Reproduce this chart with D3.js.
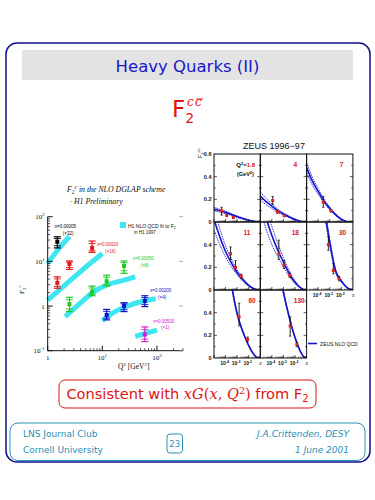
<!DOCTYPE html>
<html><head><meta charset="utf-8">
<script src="https://cdn.jsdelivr.net/npm/d3@7"></script>
<style>body{margin:0;background:#fff}svg{display:block}</style>
</head><body><svg id="c" width="375" height="500"></svg>
<script>
// ---------- DATA ----------
const slideTitle = "Heavy Quarks (II)";
const footerLeft = ["LNS Journal Club", "Cornell University"];
const footerRight = ["J.A.Crittenden, DESY", "1 June 2001"];
const pageNumber = "23";

// H1 (left plot)
const h1Title = ["in the NLO DGLAP scheme", "H1 Preliminary"];
const h1BinLabels = ["x=0.00005", "x=0.00020", "x=0.00050", "x=0.00200", "x=0.00500"];
const h1ScaleLabels = ["(×32)", "(×16)", "(×8)", "(×4)", "(×1)"];
const h1Q2 = [[1.5], [1.5, 2.5, 6.5], [2.5, 6.5, 12, 25], [12, 25, 60], [60]];
const h1F2 = [[27.5], [3.3, 8.7, 20], [1.1, 2.1, 3.6, 7.9], [0.63, 1.0, 1.3], [0.23]];
const h1Hi = [[35.5], [4.5, 10.2, 28.5], [1.57, 2.8, 4.9, 10.2], [0.84, 1.19, 1.7], [0.34]];
const h1Lo = [[20], [2.5, 6.6, 15.9], [0.75, 1.7, 2.8, 5.4], [0.49, 0.75, 0.97], [0.16]];
const fitQ2 = [[1, 1.5, 2.5], [1, 2.5, 6.5, 10], [2.1, 4, 7, 12.4, 25, 40], [10, 15, 26, 45, 95], [40, 100]];
const fitF2 = [[9, 17.5, 36], [1.35, 3.6, 9.8, 15], [0.58, 1.17, 2.1, 3.0, 3.8, 4.5], [0.47, 0.68, 0.95, 1.2, 1.45], [0.21, 0.29]];
const xTicksL = [1, 10, 100];
const yTicksL = [0.1, 1, 10, 100];

// ZEUS (right plot)
const zeusTitle = "ZEUS 1996\u221297";
const zeusQ2 = ["1.8", "4", "7", "11", "18", "30", "60", "130"];
const curveLogX = [-5, -4.5, -4, -3.5, -3, -2.5, -2, -1.75, -1.5, -1.25, -1];
const curveMid = [
  [0.115, 0.10, 0.085, 0.066, 0.047, 0.03, 0.016, 0.01, 0.005, 0.001, 0],
  [0.23, 0.18, 0.14, 0.10, 0.07, 0.045, 0.022, 0.013, 0.006, 0.001, 0],
  [0.48, 0.36, 0.27, 0.185, 0.12, 0.065, 0.025, 0.012, 0.003, 0, 0],
  [0.62, 0.47, 0.34, 0.24, 0.155, 0.09, 0.04, 0.022, 0.01, 0.002, 0],
  [0.85, 0.64, 0.48, 0.355, 0.245, 0.145, 0.068, 0.04, 0.018, 0.002, 0],
  [1.6, 1.2, 0.9, 0.72, 0.42, 0.17, 0.08, 0.047, 0.022, 0.006, 0],
  [2.5, 1.8, 1.1, 0.66, 0.39, 0.23, 0.11, 0.06, 0.025, 0.002, 0],
  [3.0, 2.2, 1.4, 0.85, 0.58, 0.36, 0.18, 0.11, 0.05, 0.012, 0]
];
const curveBand = [
  [0.015, 0.013, 0.011, 0.009, 0.007, 0.005, 0.003, 0.002, 0.001, 0, 0],
  [0.035, 0.028, 0.02, 0.015, 0.01, 0.007, 0.004, 0.003, 0.002, 0, 0],
  [0.045, 0.035, 0.025, 0.018, 0.012, 0.008, 0.004, 0.002, 0.001, 0, 0],
  [0.09, 0.07, 0.05, 0.035, 0.022, 0.014, 0.007, 0.004, 0.002, 0, 0],
  [0.12, 0.10, 0.08, 0.06, 0.04, 0.025, 0.012, 0.007, 0.003, 0, 0],
  [0.1, 0.08, 0.06, 0.05, 0.03, 0.015, 0.008, 0.005, 0.002, 0, 0],
  [0.04, 0.03, 0.02, 0.015, 0.01, 0.006, 0.003, 0.002, 0.001, 0, 0],
  [0.04, 0.03, 0.02, 0.015, 0.01, 0.006, 0.003, 0.002, 0.001, 0, 0]
];
const zeusLogX = [[-4.34, -3.9, -3.33], [-3.93, -3.53, -2.93], [-3.56, -2.9], [-3.57, -3.14, -2.65],
                  [-3.4, -2.95, -2.45], [-3.12, -2.69, -2.2], [-2.83, -2.1], [-2.42, -1.84]];
const zeusF2 = [[0.10, 0.06, 0.04], [0.19, 0.09, 0.055], [0.175, 0.10], [0.32, 0.20, 0.12],
                [0.32, 0.22, 0.13], [0.40, 0.173, 0.10], [0.364, 0.165], [0.283, 0.12]];
const zeusErrUp = [[0.03, 0.01, 0.005], [0.035, 0.012, 0.006], [0.05, 0.012], [0.06, 0.06, 0.02],
                   [0.12, 0.04, 0.02], [0.07, 0.06, 0.02], [0.12, 0.02], [0.08, 0.02]];
const zeusErrDn = [[0.04, 0.01, 0.005], [0.035, 0.012, 0.006], [0.045, 0.012], [0.05, 0.03, 0.02],
                   [0.05, 0.03, 0.02], [0.05, 0.03, 0.02], [0.08, 0.02], [0.09, 0.02]];
const yTicksR = [0, 0.2, 0.4, 0.6];
const xTicksR = [1e-4, 1e-3, 1e-2];
const xTickLabelsR = ["-4", "-3", "-2"];

// ---------- DRAW ----------
const svg = d3.select("#c");
const defs = svg.append("defs");
const NAVY = "#10108a", BLUE = "#1818c8", RED = "#dd1414", TEAL = "#2a8fb5";

svg.append("rect").attr("x", 6).attr("y", 43).attr("width", 364).attr("height", 419).attr("rx", 11)
  .attr("fill", "none").attr("stroke", NAVY).attr("stroke-width", 1.5);
svg.append("rect").attr("x", 22).attr("y", 50).attr("width", 331).attr("height", 30).attr("fill", "#e3e3e3");
svg.append("text").attr("x", 187.5).attr("y", 71.5).attr("text-anchor", "middle")
  .attr("font-family", "DejaVu Sans").attr("font-size", 16.5).attr("fill", BLUE).text(slideTitle);

// F2^{c cbar} as one text element
{
  const t = svg.append("text").attr("x", 172).attr("y", 117).attr("fill", RED).attr("font-family", "DejaVu Sans").attr("font-size", 23);
  t.append("tspan").text("F");
  t.append("tspan").attr("font-size", 14).attr("dy", 6).text("2");
  t.append("tspan").attr("font-family", "DejaVu Serif").attr("font-style", "italic").attr("font-size", 12)
    .attr("x", 187).attr("dy", -17).text("c");
  t.append("tspan").attr("font-family", "DejaVu Serif").attr("font-style", "italic").attr("font-size", 12)
    .attr("x", 195).text("c");
  svg.append("line").attr("x1", 196.3).attr("x2", 203).attr("y1", 99).attr("y2", 99).attr("stroke", RED).attr("stroke-width", 1);
}

// ---------- Left plot (H1) ----------
const xL = d3.scaleLog().domain([1, 300]).range([47.7, 183]);
const yL = d3.scaleLog().domain([0.1, 100]).range([350.7, 216.7]);
const gL = svg.append("g");
const h1Colors = ["#000000", "#e01818", "#20c820", "#1010c8", "#d020d0"];

const lineL = d3.line().x(d => xL(d[0])).y(d => yL(d[1])).curve(d3.curveMonotoneX);
fitQ2.forEach((qs, i) => {
  gL.append("path").attr("d", lineL(qs.map((q, k) => [q, fitF2[i][k]])))
    .attr("fill", "none").attr("stroke", "#3ee6f2").attr("stroke-width", 5);
});

gL.append("line").attr("x1", xL(1)).attr("x2", xL(1)).attr("y1", yL(100)).attr("y2", yL(0.1)).attr("stroke", "#111").attr("stroke-width", 1);
gL.append("line").attr("x1", xL(1)).attr("x2", xL(300)).attr("y1", yL(0.1)).attr("y2", yL(0.1)).attr("stroke", "#111").attr("stroke-width", 1);
const minorY = [], minorX = [];
[0.1, 1, 10].forEach(d => { for (let m = 2; m < 10; m++) minorY.push(d * m); });
[1, 10, 100].forEach(d => { for (let m = 2; m < 10; m++) if (d * m <= 300) minorX.push(d * m); });
yTicksL.forEach(v => {
  gL.append("line").attr("x1", xL(1)).attr("x2", xL(1) + 5).attr("y1", yL(v)).attr("y2", yL(v)).attr("stroke", "#111");
  gL.append("line").attr("x1", xL(300)).attr("x2", xL(300) - 4).attr("y1", yL(v)).attr("y2", yL(v)).attr("stroke", "#888").attr("stroke-width", 0.7);
});
minorY.forEach(v => gL.append("line").attr("x1", xL(1)).attr("x2", xL(1) + 2.5).attr("y1", yL(v)).attr("y2", yL(v)).attr("stroke", "#111").attr("stroke-width", 0.7));
xTicksL.forEach(v => gL.append("line").attr("x1", xL(v)).attr("x2", xL(v)).attr("y1", yL(0.1)).attr("y2", yL(0.1) - 5).attr("stroke", "#111"));
minorX.forEach(v => gL.append("line").attr("x1", xL(v)).attr("x2", xL(v)).attr("y1", yL(0.1)).attr("y2", yL(0.1) - 2.5).attr("stroke", "#111").attr("stroke-width", 0.7));

function powLabel(g, x, y, base, exp, anchor, size) {
  const t = g.append("text").attr("x", x).attr("y", y).attr("text-anchor", anchor)
    .attr("font-family", "Liberation Serif").attr("font-size", size).attr("fill", "#111");
  t.append("tspan").text(base);
  if (exp) t.append("tspan").attr("dy", -size * 0.4).attr("font-size", size * 0.7).text(exp);
  return t;
}
const yLab = {0.1: ["10", "-1"], 1: ["1", ""], 10: ["10", "1"], 100: ["10", "2"]};
yTicksL.forEach(v => powLabel(gL, xL(1) - 3, yL(v) + 2.5, yLab[v][0], yLab[v][1], "end", 7));
const xLab = {1: ["1", ""], 10: ["10", "1"], 100: ["10", "2"]};
xTicksL.forEach(v => powLabel(gL, xL(v), yL(0.1) + 9, xLab[v][0], xLab[v][1], "middle", 7));
{
  const t = gL.append("text").attr("x", 118).attr("y", 369).attr("font-family", "Liberation Serif").attr("font-size", 7.5).attr("fill", "#111");
  t.append("tspan").text("Q");
  t.append("tspan").attr("dy", -3).attr("font-size", 5).text("2");
  t.append("tspan").attr("dy", 3).text("  [GeV");
  t.append("tspan").attr("dy", -3).attr("font-size", 5).text("2");
  t.append("tspan").attr("dy", 3).text("]");
  const yl = gL.append("text").attr("transform", "translate(24,294) rotate(-90)").attr("font-family", "Liberation Serif").attr("font-size", 7).attr("fill", "#111");
  yl.append("tspan").text("F");
  yl.append("tspan").attr("dy", 2).attr("font-size", 5).text("2");
  yl.append("tspan").attr("dy", -5).attr("font-size", 5).text("c");
}
{
  const t = gL.append("text").attr("x", 67).attr("y", 192).attr("font-family", "Liberation Serif").attr("font-style", "italic").attr("font-size", 7.8).attr("fill", "#111");
  t.append("tspan").text("F");
  t.append("tspan").attr("dy", 2).attr("font-size", 5.5).text("2");
  t.append("tspan").attr("dy", -5).attr("font-size", 5.5).text("c");
  t.append("tspan").attr("dy", 3).text("  " + h1Title[0]);
  gL.append("text").attr("x", 70).attr("y", 204).attr("font-family", "Liberation Serif").attr("font-style", "italic").attr("font-size", 7.8).attr("fill", "#111").text("·   " + h1Title[1]);
}
gL.append("rect").attr("x", 120).attr("y", 222).attr("width", 6).attr("height", 6).attr("fill", "#3ee6f2");
{
  const t = gL.append("text").attr("x", 128).attr("y", 227.5).attr("font-family", "Liberation Sans").attr("font-size", 5).attr("fill", "#111");
  t.append("tspan").text("H1 NLO QCD fit to F");
  t.append("tspan").attr("dy", 1.5).attr("font-size", 3.5).text("2");
  gL.append("text").attr("x", 134).attr("y", 234).attr("font-family", "Liberation Sans").attr("font-size", 4.5).attr("fill", "#111").text("in H1 1997");
}
const labelAt = [[1.35, 55], [8, 22], [36, 10.7], [75, 2.06], [85, 0.42]];
h1Q2.forEach((qs, i) => {
  const col = h1Colors[i];
  qs.forEach((q, k) => {
    const x = xL(q), yv = yL(h1F2[i][k]), yh = yL(h1Hi[i][k]), yl = yL(h1Lo[i][k]);
    gL.append("line").attr("x1", x).attr("x2", x).attr("y1", yh).attr("y2", yl).attr("stroke", col).attr("stroke-width", 1.2);
    [yh, yl].forEach(yy => gL.append("line").attr("x1", x - 3.5).attr("x2", x + 3.5).attr("y1", yy).attr("y2", yy).attr("stroke", col).attr("stroke-width", 1.2));
    [yh + (yv - yh) * 0.35, yl - (yl - yv) * 0.35].forEach(yy => gL.append("line").attr("x1", x - 3.5).attr("x2", x + 3.5).attr("y1", yy).attr("y2", yy).attr("stroke", col).attr("stroke-width", 0.9));
    gL.append("rect").attr("x", x - 2).attr("y", yv - 2).attr("width", 4).attr("height", 4).attr("fill", col);
  });
  const lx = xL(labelAt[i][0]), ly = yL(labelAt[i][1]);
  gL.append("text").attr("x", lx).attr("y", ly).attr("font-family", "Liberation Sans").attr("font-size", 4.5).attr("fill", col).text(h1BinLabels[i]);
  gL.append("text").attr("x", lx + 8).attr("y", ly + 6.5).attr("font-family", "Liberation Sans").attr("font-size", 4.5).attr("fill", col).text(h1ScaleLabels[i]);
});

// ---------- Right plot (ZEUS) ----------
const colL = [214, 260.3, 306.6], rowT = [154, 222, 290], PW = 46.3, PH = 68;
const xR = d3.scaleLog().domain([1e-5, 1e-1]).range([0, PW]);
const yR = d3.scaleLinear().domain([0, 0.6]).range([PH, 0]);
const gR = svg.append("g");
gR.append("text").attr("x", 274).attr("y", 148.5).attr("text-anchor", "middle").attr("font-family", "Liberation Sans")
  .attr("font-size", 9).attr("fill", "#111").text(zeusTitle);
{
  const yl = gR.append("text").attr("transform", "translate(202,158) rotate(-90)").attr("font-family", "Liberation Sans").attr("font-size", 5.5).attr("fill", "#111");
  yl.append("tspan").text("F");
  yl.append("tspan").attr("dy", 1.5).attr("font-size", 4).text("2");
  yl.append("tspan").attr("dy", -4).attr("font-size", 4).text("cc");
}
const qLabX = [34, 35, 35, 33, 35, 36, 38, 39];
const lineR = d3.line().x(d => xR(Math.pow(10, d[0]))).y(d => yR(d[1])).curve(d3.curveMonotoneX);
zeusQ2.forEach((q, i) => {
  const r = Math.floor(i / 3), c = i % 3;
  const g = gR.append("g").attr("transform", `translate(${colL[c]},${rowT[r]})`);
  defs.append("clipPath").attr("id", "cp" + i).append("rect").attr("width", PW).attr("height", PH);
  const cg = g.append("g").attr("clip-path", `url(#cp${i})`);
  const mid = curveLogX.map((lx, k) => [lx, curveMid[i][k]]);
  const up = curveLogX.map((lx, k) => [lx, curveMid[i][k] + curveBand[i][k]]);
  const dn = curveLogX.map((lx, k) => [lx, Math.max(0, curveMid[i][k] - curveBand[i][k])]);
  [up, dn].forEach(d => cg.append("path").attr("d", lineR(d)).attr("fill", "none").attr("stroke", "#2020d8").attr("stroke-width", 0.9).attr("stroke-dasharray", "1.6,0.9"));
  cg.append("path").attr("d", lineR(mid)).attr("fill", "none").attr("stroke", "#1515cc").attr("stroke-width", 1.6);
  g.append("rect").attr("width", PW).attr("height", PH).attr("fill", "none").attr("stroke", "#111").attr("stroke-width", 1);
  [0.1, 0.2, 0.3, 0.4, 0.5].forEach(v => {
    const L = (Math.round(v * 10) % 2 === 0) ? 3 : 1.6;
    g.append("line").attr("x1", 0).attr("x2", L).attr("y1", yR(v)).attr("y2", yR(v)).attr("stroke", "#111").attr("stroke-width", 0.7);
    g.append("line").attr("x1", PW).attr("x2", PW - L).attr("y1", yR(v)).attr("y2", yR(v)).attr("stroke", "#111").attr("stroke-width", 0.7);
  });
  [1e-5, 1e-4, 1e-3, 1e-2].forEach(d => {
    g.append("line").attr("x1", xR(d)).attr("x2", xR(d)).attr("y1", PH).attr("y2", PH - 3).attr("stroke", "#111").attr("stroke-width", 0.7);
    for (let m = 2; m < 10; m++) g.append("line").attr("x1", xR(d * m)).attr("x2", xR(d * m)).attr("y1", PH).attr("y2", PH - 1.5).attr("stroke", "#111").attr("stroke-width", 0.5);
  });
  zeusLogX[i].forEach((lx, k) => {
    const x = xR(Math.pow(10, lx)), yv = yR(zeusF2[i][k]);
    const yh = yR(zeusF2[i][k] + zeusErrUp[i][k]), yl = yR(zeusF2[i][k] - zeusErrDn[i][k]);
    g.append("line").attr("x1", x).attr("x2", x).attr("y1", yh).attr("y2", yl).attr("stroke", "#111").attr("stroke-width", 0.9);
    [yh, yl].forEach(yy => g.append("line").attr("x1", x - 1.2).attr("x2", x + 1.2).attr("y1", yy).attr("y2", yy).attr("stroke", "#111").attr("stroke-width", 0.7));
    g.append("rect").attr("x", x - 1.5).attr("y", yv - 1.5).attr("width", 3).attr("height", 3).attr("fill", "#dd2222");
  });
  if (i === 0) {
    const t = g.append("text").attr("x", 41).attr("y", 12.5).attr("text-anchor", "end").attr("font-family", "Liberation Sans").attr("font-weight", "bold").attr("font-size", 6).attr("fill", "#111");
    t.append("tspan").text("Q");
    t.append("tspan").attr("dy", -2).attr("font-size", 4).text("2");
    t.append("tspan").attr("dy", 2).text("=");
    t.append("tspan").attr("fill", RED).text(q);
    const u = g.append("text").attr("x", 23).attr("y", 22).attr("font-family", "Liberation Sans").attr("font-weight", "bold").attr("font-size", 5.5).attr("fill", "#111");
    u.append("tspan").text("(GeV");
    u.append("tspan").attr("dy", -2).attr("font-size", 4).text("2");
    u.append("tspan").attr("dy", 2).text(")");
  } else {
    g.append("text").attr("x", qLabX[i]).attr("y", 13).attr("text-anchor", "middle").attr("font-family", "Liberation Sans").attr("font-weight", "bold").attr("font-size", 6.5).attr("fill", RED).text(q);
  }
  if (c === 0) {
    yTicksR.forEach(v => {
      if (v === 0.6 && r > 0) return;
      g.append("text").attr("x", -2.5).attr("y", yR(v) + 2).attr("text-anchor", "end").attr("font-family", "Liberation Sans").attr("font-weight", "bold").attr("font-size", 5.5).attr("fill", "#111").text(v === 0 ? "0" : v.toFixed(1));
    });
  }
  if (r === 2 || (r === 1 && c === 2)) {
    xTicksR.forEach((v, k) => {
      const t = g.append("text").attr("x", xR(v) - 1).attr("y", PH + 6.5).attr("text-anchor", "middle").attr("font-family", "Liberation Sans").attr("font-weight", "bold").attr("font-size", 5).attr("fill", "#111");
      t.append("tspan").text("10");
      t.append("tspan").attr("dy", -2).attr("font-size", 3.5).text(xTickLabelsR[k]);
    });
    g.append("text").attr("x", PW - 1).attr("y", PH + 6.5).attr("font-family", "Liberation Serif").attr("font-style", "italic").attr("font-size", 5.5).attr("fill", "#111").text("x");
  }
});
{
  const lx = colL[2], ly = rowT[2];
  gR.append("line").attr("x1", lx + 1.5).attr("x2", lx + 10.5).attr("y1", ly + 53.5).attr("y2", ly + 53.5).attr("stroke", "#1515cc").attr("stroke-width", 1.6);
  gR.append("text").attr("x", lx + 13.5).attr("y", ly + 55.5).attr("font-family", "Liberation Sans").attr("font-size", 5).attr("fill", "#111").text("ZEUS NLO QCD");
}

// ---------- Conclusion ----------
svg.append("rect").attr("x", 59).attr("y", 380).attr("width", 257).attr("height", 28).attr("rx", 6)
  .attr("fill", "none").attr("stroke", RED).attr("stroke-width", 1);
{
  const t = svg.append("text").attr("x", 187.5).attr("y", 399).attr("text-anchor", "middle").attr("fill", RED)
    .attr("font-family", "DejaVu Sans").attr("font-size", 14);
  t.append("tspan").text("Consistent with ");
  t.append("tspan").attr("font-family", "DejaVu Serif").attr("font-style", "italic").text("xG");
  t.append("tspan").attr("font-family", "DejaVu Serif").text("(");
  t.append("tspan").attr("font-family", "DejaVu Serif").attr("font-style", "italic").text("x");
  t.append("tspan").attr("font-family", "DejaVu Serif").text(", ");
  t.append("tspan").attr("font-family", "DejaVu Serif").attr("font-style", "italic").text("Q");
  t.append("tspan").attr("font-family", "DejaVu Serif").attr("font-size", 9.5).attr("dy", -5).text("2");
  t.append("tspan").attr("font-family", "DejaVu Serif").attr("dy", 5).text(")");
  t.append("tspan").text(" from F");
  t.append("tspan").attr("font-size", 10).attr("dy", 3).text("2");
  const w = t.node().getComputedTextLength();
  t.attr("font-size", 14 * 243 / w);
}

// ---------- Footer ----------
svg.append("rect").attr("x", 10).attr("y", 423).attr("width", 355).attr("height", 37.5).attr("rx", 8)
  .attr("fill", "none").attr("stroke", TEAL).attr("stroke-width", 1);
footerLeft.forEach((s, i) => svg.append("text").attr("x", 23).attr("y", 437 + i * 15.5).attr("font-family", "DejaVu Sans").attr("font-size", 9).attr("fill", TEAL).text(s));
footerRight.forEach((s, i) => svg.append("text").attr("x", 349).attr("y", 437 + i * 15.5).attr("text-anchor", "end").attr("font-family", "DejaVu Sans").attr("font-style", "italic").attr("font-size", 9).attr("fill", TEAL).text(s));
svg.append("rect").attr("x", 167).attr("y", 434).attr("width", 15.5).attr("height", 19).attr("rx", 3).attr("fill", "none").attr("stroke", TEAL).attr("stroke-width", 1);
svg.append("text").attr("x", 174.75).attr("y", 447).attr("text-anchor", "middle").attr("font-family", "DejaVu Sans").attr("font-size", 8.5).attr("fill", TEAL).text(pageNumber);
</script></body></html>
